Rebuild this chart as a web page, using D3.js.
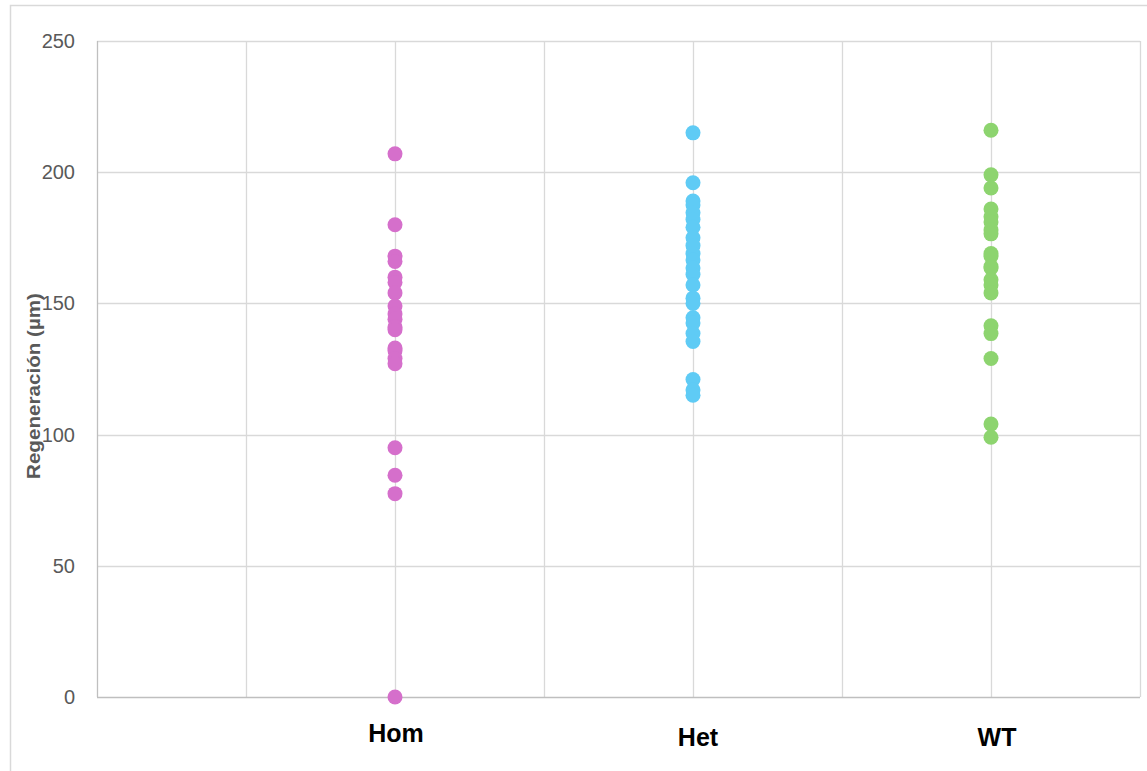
<!DOCTYPE html>
<html><head><meta charset="utf-8">
<script src="https://cdn.jsdelivr.net/npm/d3@7"></script>
<style>body{margin:0;background:#fff}svg{display:block}</style>
</head><body>
<svg id="c" width="1147" height="771"></svg>
<script>
const categories = ["Hom", "Het", "WT"];
const categoryX = [2, 4, 6];
const homValues = [207, 180, 168, 166, 160, 158, 154, 149, 146, 144, 141, 140, 133, 132, 129, 127, 95, 84.5, 77.5, 0];
const hetValues = [215, 196, 189, 187.5, 184.5, 182, 179, 175, 172, 169, 166.5, 163.5, 161, 157, 152, 150, 144.5, 142.5, 138.5, 135.5, 121, 117, 115];
const wtValues = [216, 199, 194, 186, 183, 181, 178, 176.5, 169, 168, 164, 163.5, 159, 157, 154, 141.5, 138.5, 129, 104, 99];
const yTicks = [0, 50, 100, 150, 200, 250];
const xTicks = [0, 1, 2, 3, 4, 5, 6, 7];
const colors = ["#d56fcb", "#5fcbf5", "#8dd46f"];
const yTitle = "Regeneración (µm)";

const svg = d3.select("#c");
const L = 97, R = 1140, T = 41, B = 697;
const x = d3.scaleLinear().domain([0, 7]).range([L, R]);
const y = d3.scaleLinear().domain([0, 250]).range([B, T]);

// outer frame (right and bottom edges fall outside the view)
svg.append("rect").attr("x", 10.5).attr("y", 5.5).attr("width", 1200).attr("height", 800)
  .attr("fill", "none").attr("stroke", "#d9d9d9").attr("stroke-width", 1.5);

// gridlines
svg.append("g").selectAll("line").data(yTicks.filter(d => d > 0)).join("line")
  .attr("x1", L).attr("x2", R).attr("y1", d => Math.round(y(d)) + 0.5).attr("y2", d => Math.round(y(d)) + 0.5)
  .attr("stroke", "#d9d9d9").attr("stroke-width", 1.3);
svg.append("g").selectAll("line").data(xTicks.filter(d => d > 0)).join("line")
  .attr("y1", T).attr("y2", B).attr("x1", d => Math.round(x(d)) + 0.5).attr("x2", d => Math.round(x(d)) + 0.5)
  .attr("stroke", "#d9d9d9").attr("stroke-width", 1.3);

// axes lines
svg.append("line").attr("x1", L + 0.5).attr("x2", L + 0.5).attr("y1", T).attr("y2", B)
  .attr("stroke", "#bfbfbf").attr("stroke-width", 1.3);
svg.append("line").attr("x1", L).attr("x2", R).attr("y1", B + 0.5).attr("y2", B + 0.5)
  .attr("stroke", "#bfbfbf").attr("stroke-width", 1.3);

// y axis tick labels
const yAxis = d3.axisLeft(y).tickValues(yTicks).tickSize(0).tickPadding(22);
const ga = svg.append("g").attr("transform", `translate(${L},0)`).call(yAxis);
ga.select(".domain").remove();
ga.selectAll("text").attr("font-family", "'Liberation Sans', Arial, sans-serif")
  .attr("font-size", 20).attr("fill", "#595959");

// y title
svg.append("text").attr("transform", `translate(40,${386}) rotate(-90)`)
  .attr("text-anchor", "middle").attr("font-family", "'Liberation Sans', Arial, sans-serif")
  .attr("font-weight", "bold").attr("font-size", 19).attr("fill", "#595959")
  .attr("textLength", 186).attr("lengthAdjust", "spacingAndGlyphs").text(yTitle);

// points
const series = [homValues, hetValues, wtValues];
series.forEach((vals, i) => {
  svg.append("g").selectAll("circle").data(vals).join("circle")
    .attr("cx", x(categoryX[i])).attr("cy", d => y(d)).attr("r", 7.5)
    .attr("fill", colors[i]);
});

// category labels
const labelDy = [742, 746, 746];
const labelDx = [1, 5, 6];
svg.append("g").selectAll("text").data(categories).join("text")
  .attr("x", (d, i) => x(categoryX[i]) + labelDx[i]).attr("y", (d, i) => labelDy[i])
  .attr("text-anchor", "middle").attr("font-family", "'Liberation Sans', Arial, sans-serif")
  .attr("font-weight", "bold").attr("font-size", 25).attr("fill", "#000").text(d => d);
</script>
</body></html>
